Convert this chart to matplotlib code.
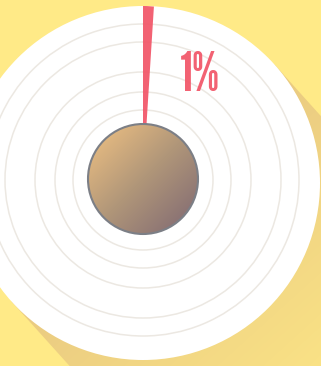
import numpy as np
import matplotlib.pyplot as plt
from matplotlib.patches import Circle, Polygon
from matplotlib.colors import LinearSegmentedColormap

# data
percent = [1]
labels = ['1%']

W, H = 321, 366
CX, CY = 143, 180          # centre of the gauge, pixels
R_OUT = 174                # outer end of the bar
R_IN = 55                  # centre disc
RINGS = [70, 88, 108, 138, 156]
DCX, DCY, R_DISC = 143, 183, 177   # white disc

BG = '#FFEA87'
SHADOW = '#E9C981'
RED = '#F2596B'

fig = plt.figure(figsize=(W / 100, H / 100), dpi=100)
fig.patch.set_facecolor(BG)

bg = fig.add_axes([0, 0, 1, 1])
bg.set_xlim(0, W)
bg.set_ylim(H, 0)
bg.axis('off')

# long shadow, slightly steeper than 45 deg
ang = np.radians(48)
u = np.array([np.cos(ang), np.sin(ang)])       # shadow direction
n = np.array([np.sin(ang), -np.cos(ang)])      # normal
c = np.array([DCX, DCY])
a = c + R_DISC * n
b = c - R_DISC * n
far = 700
poly = Polygon([a, a + far * u, b + far * u, b],
               closed=True, facecolor='none', edgecolor='none')
bg.add_patch(poly)
yy, xx = np.mgrid[0:H, 0:W] + 0.5
t = (xx - DCX) * u[0] + (yy - DCY) * u[1]
t = np.clip(t / 340, 0, 1)
cmap = LinearSegmentedColormap.from_list('sh', [SHADOW, BG])
im = bg.imshow(t, cmap=cmap, vmin=0, vmax=1, extent=(0, W, H, 0), zorder=1)
im.set_clip_path(poly)

bg.add_patch(Circle((DCX, DCY), R_DISC, facecolor='white', edgecolor='none', zorder=2))

# gauge
rect = [(CX - R_OUT) / W, (H - CY - R_OUT) / H, 2 * R_OUT / W, 2 * R_OUT / H]
pax = fig.add_axes(rect, projection='polar')
pax.patch.set_alpha(0)
pax.set_theta_zero_location('N')
pax.set_theta_direction(-1)
pax.set_ylim(0, R_OUT)
pax.set_rgrids(RINGS, labels=[''] * len(RINGS))
pax.set_xticks([])
pax.set_axisbelow(True)
pax.yaxis.grid(True, color='#ECE8E2', lw=1.1)
pax.spines['polar'].set_visible(False)
pax.bar(0, R_OUT, width=2 * np.pi * percent[0] / 100, bottom=0,
        align='edge', color=RED, alpha=0.95, zorder=3)

# overlay: centre disc and label
top = fig.add_axes([0, 0, 1, 1])
top.set_xlim(0, W)
top.set_ylim(H, 0)
top.axis('off')
top.patch.set_alpha(0)

ccx, ccy = 143, 179
disc = Circle((ccx, ccy), R_IN, facecolor='none', edgecolor='#7C7F86', lw=1.5, zorder=4)
top.add_patch(disc)
g = ((xx - ccx) + (yy - ccy)) / (np.sqrt(2) * R_IN)
g = np.clip((g + 1) / 2, 0, 1)
gcm = LinearSegmentedColormap.from_list('c', ['#DFB680', '#B09679', '#8C7474'])
gim = top.imshow(g, cmap=gcm, vmin=0, vmax=1, extent=(0, W, H, 0), zorder=3)
gim.set_clip_path(disc)

top.text(200, 76, labels[0], color=RED, fontsize=39, ha='center', va='center',
         family=['League Gothic', 'DejaVu Sans'], alpha=0.95)

fig.savefig('out.png', dpi=100, facecolor=BG)
